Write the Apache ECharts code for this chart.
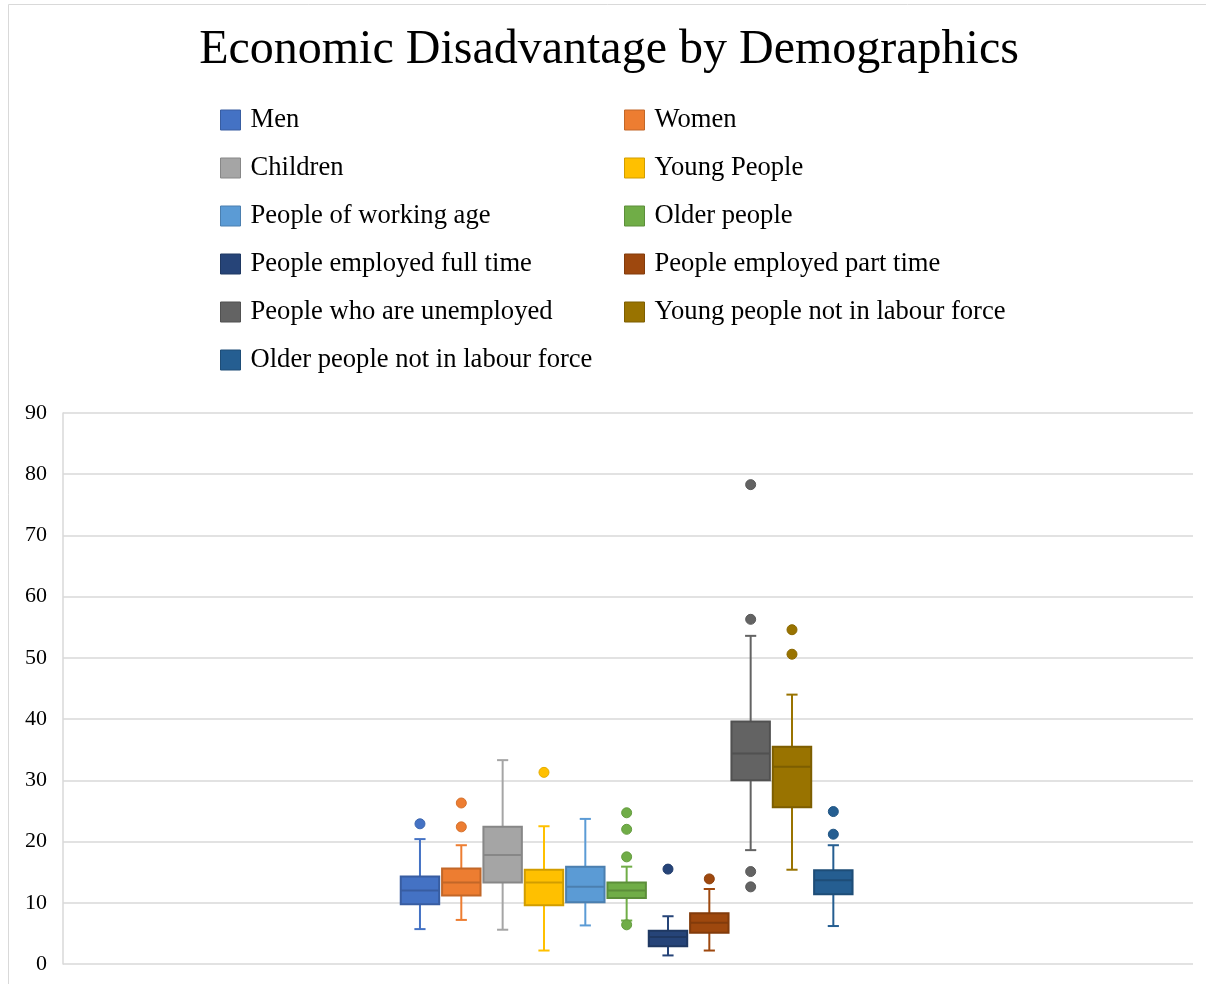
<!DOCTYPE html>
<html>
<head>
<meta charset="utf-8">
<title>Economic Disadvantage by Demographics</title>
<script src="https://cdn.jsdelivr.net/npm/echarts@6/dist/echarts.min.js"></script>
<style>
  html, body { margin: 0; padding: 0; background: #ffffff; }
  #chart { width: 1206px; height: 984px; }
</style>
</head>
<body>
<div id="chart"></div>
<script>
// Group names, in plotting order
const groups = [
  'Men', 'Women', 'Children', 'Young People', 'People of working age',
  'Older people', 'People employed full time', 'People employed part time',
  'People who are unemployed', 'Young people not in labour force',
  'Older people not in labour force'
];

// Five-number summaries per group (percent)
const whiskerLow  = [5.7,  7.2, 5.6,  2.2,  6.3,  7.1, 1.4,  2.2, 18.6, 15.4,  6.2];
const quartile1   = [9.75, 11.2, 13.3, 9.6, 10.1, 10.8, 2.9,  5.1, 30.0, 25.6, 11.4];
const medians     = [12.0, 13.3, 17.8, 13.3, 12.6, 12.0, 4.4, 6.75, 34.4, 32.2, 13.7];
const quartile3   = [14.3, 15.6, 22.4, 15.4, 15.9, 13.3, 5.45, 8.3, 39.6, 35.5, 15.3];
const whiskerHigh = [20.4, 19.4, 33.3, 22.5, 23.7, 15.9, 7.8, 12.25, 53.6, 44.0, 19.4];

// Points lying beyond the whiskers
const outliers = [
  [22.9],
  [26.3, 22.4],
  [],
  [31.3],
  [],
  [24.7, 22.0, 17.5, 6.4],
  [15.5],
  [13.9],
  [78.3, 56.3, 15.1, 12.6],
  [54.6, 50.6],
  [24.9, 21.2]
];

// Value axis ticks
const yTicks = [0, 10, 20, 30, 40, 50, 60, 70, 80, 90];

// Office palette
const fills = ['#4472C4', '#ED7D31', '#A5A5A5', '#FFC000', '#5B9BD5', '#70AD47',
               '#264478', '#9E480E', '#636363', '#997300', '#255E91'];

const leftColumn  = [0, 2, 4, 6, 8, 10];
const rightColumn = [1, 3, 5, 7, 9];

function shade(hex, f) {
  const n = parseInt(hex.slice(1), 16);
  const r = Math.round(((n >> 16) & 255) * f);
  const g = Math.round(((n >> 8) & 255) * f);
  const b = Math.round((n & 255) * f);
  return 'rgb(' + r + ',' + g + ',' + b + ')';
}

const SERIF = '"Liberation Serif", "Times New Roman", "DejaVu Serif", serif';

// Box, whiskers, caps and median for one group, placed through the axes
function renderBox(params, api) {
  const idx = api.value(0);
  const lo = api.coord([idx, api.value(1)]);
  const b1 = api.coord([idx, api.value(2)]);
  const md = api.coord([idx, api.value(3)]);
  const b3 = api.coord([idx, api.value(4)]);
  const hi = api.coord([idx, api.value(5)]);
  const band = api.size([1, 0])[0];
  const boxW = band * 0.93;
  const capW = band * 0.27;
  const cx = lo[0];
  const color = fills[idx];
  const dark = shade(color, 0.82);
  const line = { stroke: color, lineWidth: 2 };
  return {
    type: 'group',
    children: [
      { type: 'line', shape: { x1: cx, y1: lo[1], x2: cx, y2: b1[1] }, style: line },
      { type: 'line', shape: { x1: cx, y1: b3[1], x2: cx, y2: hi[1] }, style: line },
      { type: 'line', shape: { x1: cx - capW / 2, y1: lo[1], x2: cx + capW / 2, y2: lo[1] }, style: line },
      { type: 'line', shape: { x1: cx - capW / 2, y1: hi[1], x2: cx + capW / 2, y2: hi[1] }, style: line },
      { type: 'rect', shape: { x: cx - boxW / 2, y: b3[1], width: boxW, height: b1[1] - b3[1] },
        style: { fill: color, stroke: dark, lineWidth: 2 } },
      { type: 'line', shape: { x1: cx - boxW / 2, y1: md[1], x2: cx + boxW / 2, y2: md[1] },
        style: { stroke: dark, lineWidth: 2 } }
    ]
  };
}

const series = [];
groups.forEach(function (name, i) {
  series.push({
    type: 'custom',
    name: name,
    xAxisIndex: 1,
    yAxisIndex: 1,
    renderItem: renderBox,
    itemStyle: { color: fills[i] },
    encode: { x: 0, y: [1, 2, 3, 4, 5] },
    data: [[i, whiskerLow[i], quartile1[i], medians[i], quartile3[i], whiskerHigh[i]]],
    z: 3
  });
  series.push({
    type: 'scatter',
    name: name,
    xAxisIndex: 1,
    yAxisIndex: 1,
    symbol: 'circle',
    symbolSize: 10,
    itemStyle: { color: fills[i], borderColor: shade(fills[i], 0.9), borderWidth: 1, opacity: 1 },
    data: outliers[i].map(function (v) { return [i, v]; }),
    z: 4
  });
});

function legendFor(indices, left) {
  return {
    orient: 'vertical',
    left: left,
    top: 101,
    icon: 'rect',
    itemWidth: 20,
    itemHeight: 20,
    itemGap: 20,
    selectedMode: true,
    textStyle: { fontFamily: SERIF, fontSize: 26.6, color: '#000', lineHeight: 28, padding: [0, 0, 0, 5] },
    data: indices.map(function (i) {
      return { name: groups[i], itemStyle: { color: fills[i], borderColor: shade(fills[i], 0.82), borderWidth: 1 } };
    })
  };
}

const chart = echarts.init(document.getElementById('chart'), null, { renderer: 'canvas' });
chart.setOption({
  animation: false,
  backgroundColor: '#ffffff',
  title: {
    text: 'Economic Disadvantage by Demographics',
    left: 604,
    top: 21,
    textAlign: 'center',
    textStyle: { fontFamily: SERIF, fontSize: 48, fontWeight: 'normal', color: '#000' }
  },
  legend: [legendFor(leftColumn, 215), legendFor(rightColumn, 619)],
  graphic: [{
    type: 'rect',
    silent: true,
    shape: { x: 8.5, y: 4.5, width: 1300, height: 1100 },
    style: { fill: 'none', stroke: '#d9d9d9', lineWidth: 1 }
  }],
  grid: [
    { left: 63, right: 13, top: 413, bottom: 20 },
    { left: 399.3, width: 454.7, top: 413, bottom: 20 }
  ],
  xAxis: [
    {
      type: 'category', gridIndex: 0, data: [''],
      axisLine: { show: false }, axisTick: { show: false }, axisLabel: { show: false }
    },
    {
      type: 'category', gridIndex: 1, data: groups,
      axisLine: { show: false }, axisTick: { show: false }, axisLabel: { show: false },
      splitLine: { show: false }
    }
  ],
  yAxis: [
    {
      type: 'value', gridIndex: 0, min: yTicks[0], max: yTicks[yTicks.length - 1], interval: 10,
      axisLine: { show: true, lineStyle: { color: '#d9d9d9', width: 1.5 } },
      axisTick: { show: false },
      splitLine: { show: true, lineStyle: { color: '#d9d9d9', width: 1.5 } },
      axisLabel: { margin: 16, fontFamily: SERIF, fontSize: 22, color: '#000' }
    },
    {
      type: 'value', gridIndex: 1, min: yTicks[0], max: yTicks[yTicks.length - 1], interval: 10,
      show: false, splitLine: { show: false }
    }
  ],
  series: series
});
</script>
</body>
</html>
